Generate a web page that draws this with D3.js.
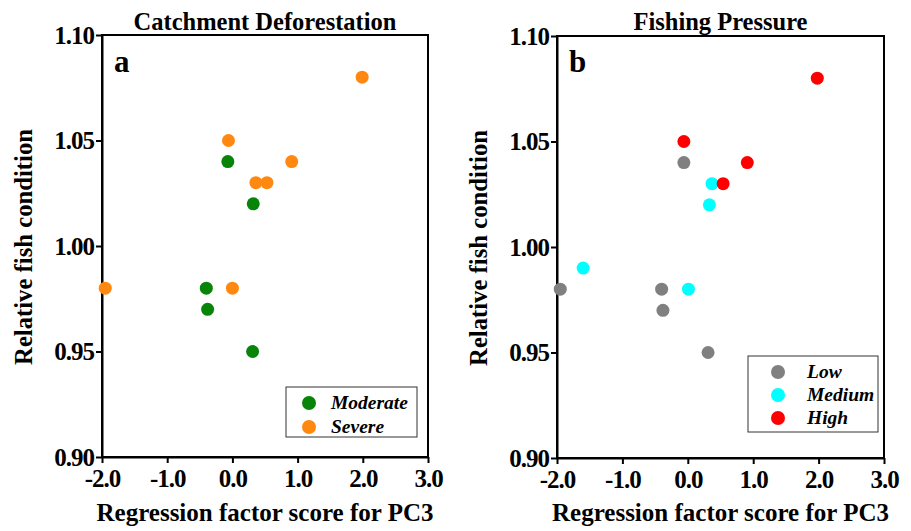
<!DOCTYPE html>
<html>
<head>
<meta charset="utf-8">
<script src="https://cdn.jsdelivr.net/npm/d3@7"></script>
<style>
  body { margin: 0; background: #fff; }
  text { font-family: "Liberation Serif", "Times New Roman", serif; font-weight: bold; }
</style>
</head>
<body>
<script>
// data
const xTicks = [-2, -1, 0, 1, 2, 3];
const yTicks = [0.90, 0.95, 1.00, 1.05, 1.10];

// panel a: catchment deforestation
const moderateX = [-0.07, 0.32, -0.40, -0.38, 0.31];
const moderateY = [1.04, 1.02, 0.98, 0.97, 0.95];
const severeX = [-0.06, 0.36, 0.53, 0.91, 1.99, -1.95, 0.00];
const severeY = [1.05, 1.03, 1.03, 1.04, 1.08, 0.98, 0.98];

// panel b: fishing pressure
const lowX = [-0.06, -1.95, -0.40, -0.38, 0.31];
const lowY = [1.04, 0.98, 0.98, 0.97, 0.95];
const mediumX = [0.37, 0.33, -1.60, 0.01];
const mediumY = [1.03, 1.02, 0.99, 0.98];
const highX = [-0.06, 0.54, 0.91, 1.98];
const highY = [1.05, 1.03, 1.04, 1.08];

const width = 911, height = 531;
const svg = d3.select("body").append("svg").attr("width", width).attr("height", height);

function zip(xs, ys) { return xs.map((x, i) => ({x: x, y: ys[i]})); }

function drawPanel(o) {
  const x = d3.scaleLinear().domain([-2, 3]).range([o.left, o.right]);
  const y = d3.scaleLinear().domain([0.90, 1.10]).range([o.bottom, o.top]);
  const g = svg.append("g");

  // frame
  g.append("rect").attr("x", o.left).attr("y", o.top)
    .attr("width", o.right - o.left).attr("height", o.bottom - o.top)
    .attr("fill", "none").attr("stroke", "#000").attr("stroke-width", 2);

  const xa = g.append("g").attr("transform", `translate(0,${o.bottom})`)
    .call(d3.axisBottom(x).tickValues(xTicks).tickSize(6).tickSizeOuter(0).tickFormat(d3.format(".1f")));
  const ya = g.append("g").attr("transform", `translate(${o.left},0)`)
    .call(d3.axisLeft(y).tickValues(yTicks).tickSize(6).tickSizeOuter(0).tickFormat(d3.format(".2f")));
  [xa, ya].forEach(a => {
    a.select(".domain").attr("stroke-width", 2);
    a.selectAll(".tick line").attr("stroke-width", 2);
    a.selectAll(".tick text").attr("font-family", "Liberation Serif").attr("font-weight", "bold")
      .attr("font-size", 25).attr("letter-spacing", -1).attr("fill", "#000");
  });
  xa.selectAll(".tick text").attr("dy", "0.71em").attr("y", 12).text(d => d3.format(".1f")(d).replace("−", "-"));
  ya.selectAll(".tick text").attr("x", -8);

  g.append("text").attr("x", (o.left + o.right) / 2).attr("y", 30).attr("text-anchor", "middle")
    .attr("font-size", 24.5).text(o.title);
  g.append("text").attr("x", o.left + 12).attr("y", 72).attr("font-size", 31).text(o.letter);
  g.append("text").attr("x", (o.left + o.right) / 2).attr("y", 521).attr("text-anchor", "middle")
    .attr("font-size", 25).text("Regression factor score for PC3");
  g.append("text").attr("transform", `translate(${o.left - 70},${(o.top + o.bottom) / 2 + 1}) rotate(-90)`)
    .attr("text-anchor", "middle").attr("font-size", 24.7).text("Relative fish condition");

  o.series.forEach(s => {
    g.append("g").selectAll("circle").data(zip(s.xs, s.ys)).enter().append("circle")
      .attr("cx", d => x(d.x)).attr("cy", d => y(d.y)).attr("r", 6.5).attr("fill", s.color);
  });

  // legend
  const L = o.legend;
  const lg = g.append("g");
  lg.append("rect").attr("x", L.x).attr("y", L.y)
    .attr("width", L.w).attr("height", L.h)
    .attr("fill", "#fff").attr("stroke", "#333").attr("stroke-width", 1);
  o.series.forEach((s, i) => {
    const cy = L.y + 16 + i * L.step;
    lg.append("circle").attr("cx", L.x + L.dot).attr("cy", cy).attr("r", 7).attr("fill", s.color);
    lg.append("text").attr("x", L.x + L.txt).attr("y", cy + 6)
      .attr("font-size", 19.5).attr("font-style", "italic").text(s.name);
  });
}

drawPanel({
  left: 102, right: 428, top: 35, bottom: 457,
  title: "Catchment Deforestation", letter: "a",
  series: [
    {name: "Moderate", xs: moderateX, ys: moderateY, color: "#088408"},
    {name: "Severe", xs: severeX, ys: severeY, color: "#ff8811"}
  ],
  legend: {x: 286, y: 387, w: 131, h: 50, step: 24, dot: 23, txt: 45}
});

drawPanel({
  left: 557, right: 884, top: 36, bottom: 458,
  title: "Fishing Pressure", letter: "b",
  series: [
    {name: "Low", xs: lowX, ys: lowY, color: "#808080"},
    {name: "Medium", xs: mediumX, ys: mediumY, color: "#00ffff"},
    {name: "High", xs: highX, ys: highY, color: "#ff0000"}
  ],
  legend: {x: 748, y: 356, w: 130, h: 76, step: 23, dot: 30, txt: 59}
});
</script>
</body>
</html>
